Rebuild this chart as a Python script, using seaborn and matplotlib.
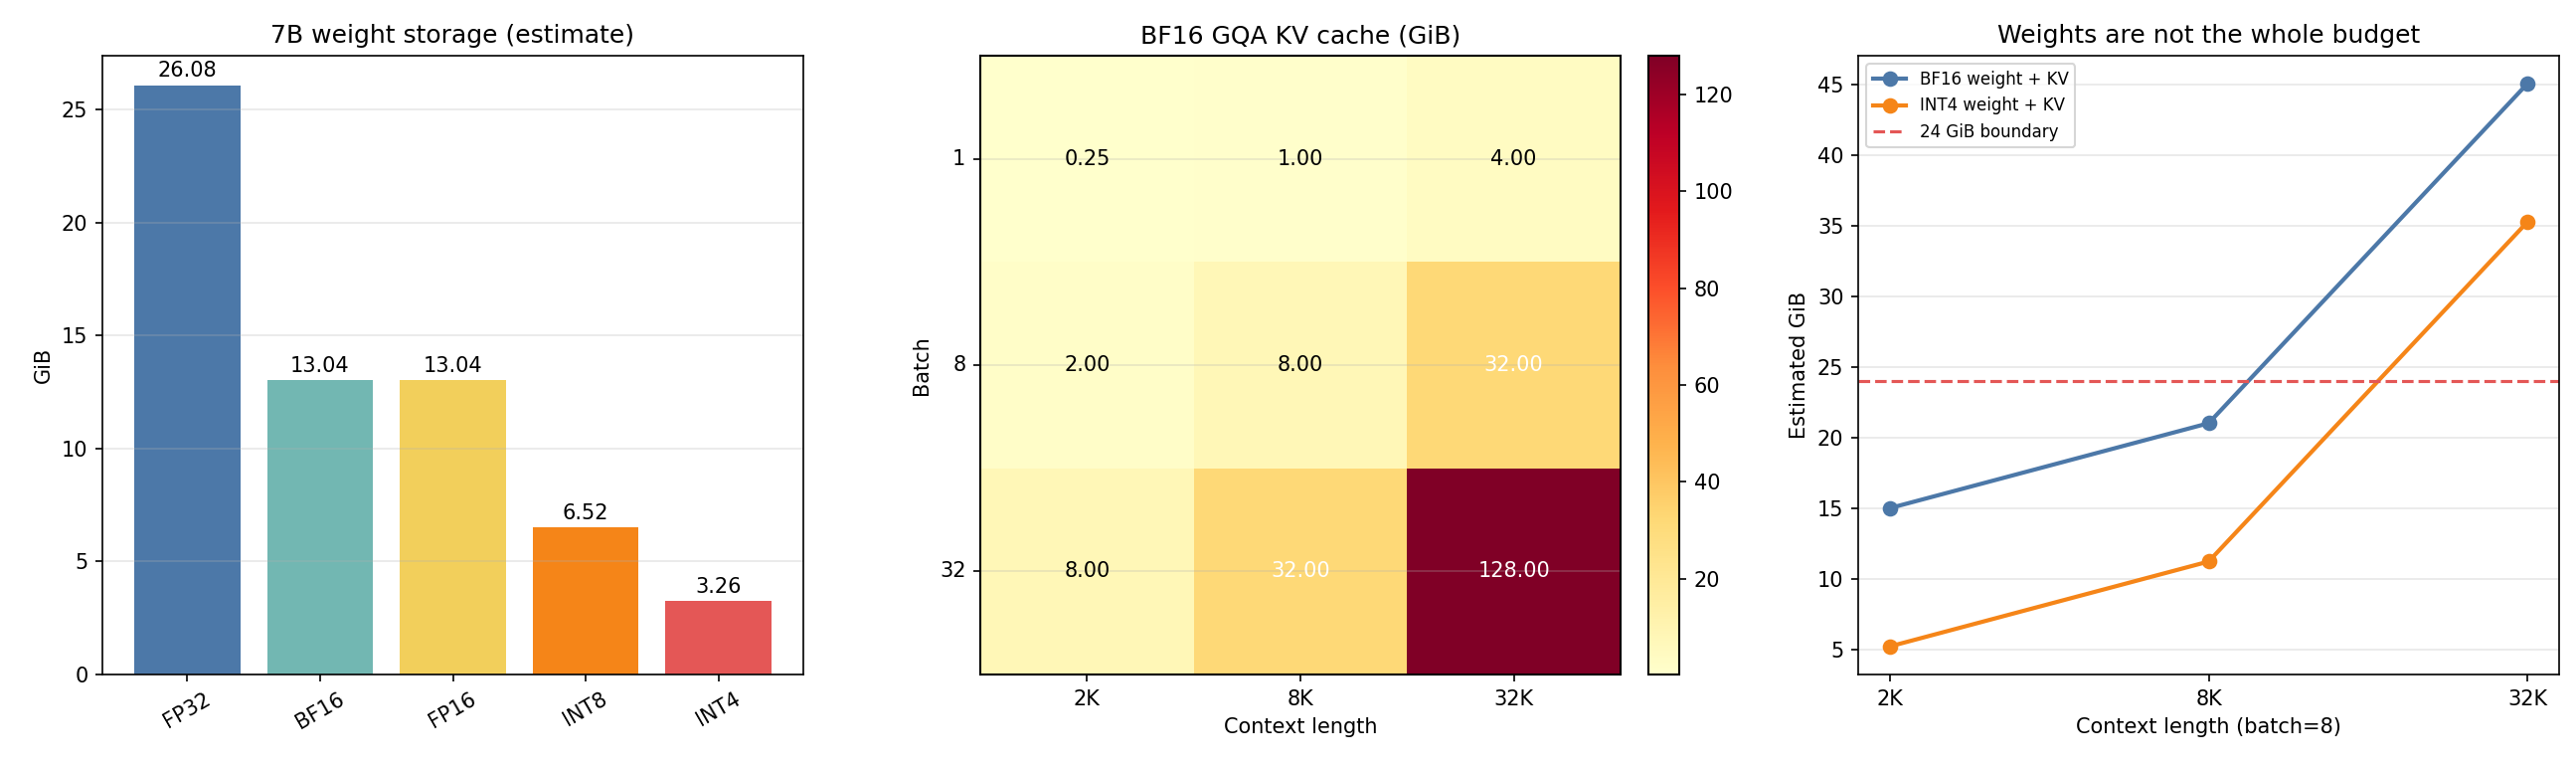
import matplotlib
matplotlib.use("Agg")
import matplotlib.pyplot as plt
import seaborn as sns
import numpy as np
import pandas as pd

# ---- data ----
formats = ["FP32", "BF16", "FP16", "INT8", "INT4"]
weight_gib = [26.08, 13.04, 13.04, 6.52, 3.26]
bar_colors = ["#4C78A8", "#72B7B2", "#F2CF5B", "#F58518", "#E45756"]

batches = [1, 8, 32]
contexts = ["2K", "8K", "32K"]
kv_gib = [[0.25, 1.00, 4.00],
          [2.00, 8.00, 32.00],
          [8.00, 32.00, 128.00]]

line_ctx = ["2K", "8K", "32K"]
bf16_total = [15.04, 21.04, 45.04]
int4_total = [5.26, 11.26, 35.26]
budget_gib = 24

W, H = 2591, 774
dpi = 150
fig = plt.figure(figsize=(W / dpi, H / dpi), dpi=dpi)

def px_axes(x0, x1, y0, y1):
    return fig.add_axes([x0 / W, (H - y1) / H, (x1 - x0) / W, (y1 - y0) / H])

ax1 = px_axes(103, 808, 56, 678)
ax2 = px_axes(986, 1630, 56, 678)
cax = px_axes(1658, 1689, 56, 678)
ax3 = px_axes(1869, 2574, 56, 678)

# ---- panel 1: bars ----
df_w = pd.DataFrame({"fmt": formats, "gib": weight_gib})
sns.barplot(data=df_w, x="fmt", y="gib", hue="fmt", palette=bar_colors,
            legend=False, width=0.8, saturation=1, ax=ax1)
for c in ax1.containers:
    ax1.bar_label(c, fmt="%.2f", padding=2, fontsize=10)
ax1.set_xlim(-0.64, len(formats) - 1 + 0.64)
ax1.set_ylim(0, max(weight_gib) * 1.05)
ax1.set_title("7B weight storage (estimate)", fontsize=12)
ax1.set_xlabel("")
ax1.set_ylabel("GiB")
ax1.grid(axis="y", alpha=0.3)
ax1.tick_params(axis="x", rotation=30)

# ---- panel 2: heatmap ----
df_kv = pd.DataFrame(kv_gib, index=batches, columns=contexts)
sns.heatmap(df_kv, cmap="YlOrRd", annot=False, ax=ax2, cbar_ax=cax)
for i in range(len(batches)):
    for j in range(len(contexts)):
        v = kv_gib[i][j]
        ax2.text(j + 0.5, i + 0.5, f"{v:.2f}", ha="center", va="center",
                 fontsize=10, color="white" if v > 20 else "black")
for s in ax2.spines.values():
    s.set_visible(True)
    s.set_linewidth(1.0)
ax2.set_title("BF16 GQA KV cache (GiB)", fontsize=12)
ax2.set_xlabel("Context length")
ax2.set_ylabel("Batch")
ax2.tick_params(axis="both", length=3.5, width=0.8)
ax2.set_yticklabels([str(b) for b in batches], rotation=0)
ax2.set_xticklabels(contexts, rotation=0)
ax2.grid(axis="y", alpha=0.3)
cb = ax2.collections[0].colorbar
cb.outline.set_visible(True)
cb.outline.set_linewidth(1.0)
cb.outline.set_edgecolor("black")
cax.tick_params(length=3.5, width=0.8)
cb.set_ticks([20, 40, 60, 80, 100, 120])

# ---- panel 3: lines ----
df_l = pd.DataFrame({
    "ctx": line_ctx * 2,
    "gib": bf16_total + int4_total,
    "series": ["BF16 weight + KV"] * 3 + ["INT4 weight + KV"] * 3,
})
sns.lineplot(data=df_l, x="ctx", y="gib", hue="series",
             palette=["#4C78A8", "#F58518"], marker="o", markersize=7.5,
             markeredgewidth=0, linewidth=2, ax=ax3)
ax3.axhline(budget_gib, color="#E45756", linestyle="--", linewidth=1.5,
            label="24 GiB boundary")
ax3.legend(loc="upper left", fontsize=8)
ax3.set_title("Weights are not the whole budget", fontsize=12)
ax3.set_xlabel("Context length (batch=8)")
ax3.set_ylabel("Estimated GiB")
ax3.grid(axis="y", alpha=0.3)
ax3.set_xmargin(0.05)

fig.savefig("out.png", dpi=dpi)
